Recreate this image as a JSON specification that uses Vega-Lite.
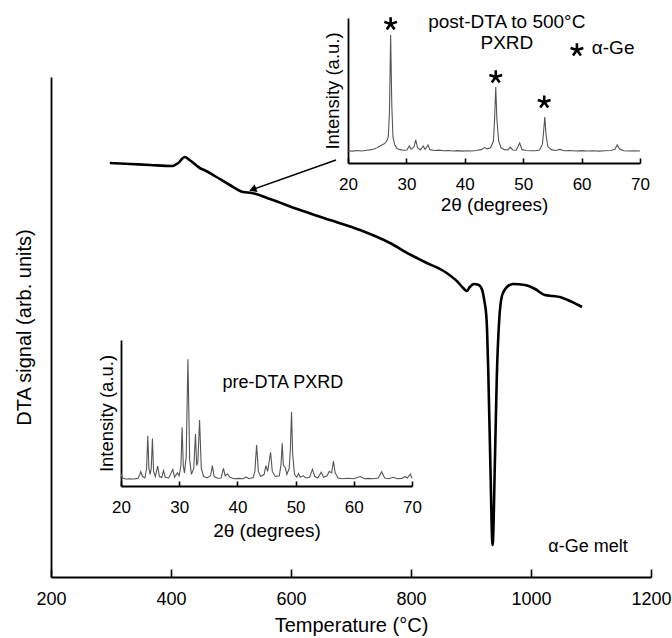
{
  "$schema": "https://vega.github.io/schema/vega-lite/v6.json",
  "width": 600,
  "height": 500,
  "autosize": {"type": "none"},
  "padding": {"left": 51, "top": 77, "right": 21, "bottom": 61},
  "background": "#ffffff",
  "config": {
    "view": {"stroke": null},
    "font": "Liberation Sans",
    "text": {"font": "Liberation Sans"},
    "axis": {
      "grid": false,
      "labelFlush": false,
      "labelOverlap": false,
      "domainColor": "#000000",
      "tickColor": "#000000",
      "labelColor": "#000000",
      "titleColor": "#000000",
      "labelFont": "Liberation Sans",
      "titleFont": "Liberation Sans",
      "titleFontWeight": "normal",
      "domainWidth": 1.8,
      "tickWidth": 1.6
    }
  },
  "datasets": {
    "dta": [
      {"temperature": 298, "signal": 82.8},
      {"temperature": 332, "signal": 82.6},
      {"temperature": 365, "signal": 82.4},
      {"temperature": 402, "signal": 82.2},
      {"temperature": 412, "signal": 82.8},
      {"temperature": 423, "signal": 84.0},
      {"temperature": 432, "signal": 83.3},
      {"temperature": 448, "signal": 81.8},
      {"temperature": 457, "signal": 81.3},
      {"temperature": 473, "signal": 80.2},
      {"temperature": 498, "signal": 78.4},
      {"temperature": 520, "signal": 77.0},
      {"temperature": 535, "signal": 76.8},
      {"temperature": 565, "signal": 75.6},
      {"temperature": 615, "signal": 73.4},
      {"temperature": 665, "signal": 71.4},
      {"temperature": 715, "signal": 69.4},
      {"temperature": 765, "signal": 66.8},
      {"temperature": 800, "signal": 64.4},
      {"temperature": 810, "signal": 63.8},
      {"temperature": 823, "signal": 63.0},
      {"temperature": 857, "signal": 61.0},
      {"temperature": 878, "signal": 59.0},
      {"temperature": 887, "signal": 57.8},
      {"temperature": 893, "signal": 57.2},
      {"temperature": 898, "signal": 58.0},
      {"temperature": 905, "signal": 58.6},
      {"temperature": 913, "signal": 58.4},
      {"temperature": 918, "signal": 57.6},
      {"temperature": 922, "signal": 55.4},
      {"temperature": 926, "signal": 51.4},
      {"temperature": 929, "signal": 40.0},
      {"temperature": 932, "signal": 24.0},
      {"temperature": 936, "signal": 6.4},
      {"temperature": 940, "signal": 24.0},
      {"temperature": 943, "signal": 40.0},
      {"temperature": 947, "signal": 51.4},
      {"temperature": 952, "signal": 56.4},
      {"temperature": 960, "signal": 58.0},
      {"temperature": 970, "signal": 58.6},
      {"temperature": 990, "signal": 58.4},
      {"temperature": 1007, "signal": 57.6},
      {"temperature": 1023, "signal": 56.4},
      {"temperature": 1037, "signal": 56.2},
      {"temperature": 1048, "signal": 56.0},
      {"temperature": 1065, "signal": 55.2},
      {"temperature": 1085, "signal": 54.0}
    ],
    "arrow": [
      {"temperature": 675, "signal": 83.4},
      {"temperature": 538, "signal": 77.6}
    ],
    "arrowhead": [
      {"temperature": 538, "signal": 77.6}
    ],
    "main_notes": [
      {"temperature": 1095, "signal": 6, "label": "α-Ge melt"}
    ],
    "post": [
      {"two_theta": 20.0, "intensity": 8.5},
      {"two_theta": 20.8, "intensity": 8.2},
      {"two_theta": 21.6, "intensity": 8.6},
      {"two_theta": 22.4, "intensity": 8.3},
      {"two_theta": 23.2, "intensity": 8.8},
      {"two_theta": 24.0, "intensity": 9.2},
      {"two_theta": 24.6, "intensity": 9.8},
      {"two_theta": 25.0, "intensity": 10.6},
      {"two_theta": 25.4, "intensity": 11.5},
      {"two_theta": 25.8, "intensity": 12.5},
      {"two_theta": 26.2, "intensity": 13.2},
      {"two_theta": 26.6, "intensity": 14.8},
      {"two_theta": 26.9, "intensity": 18},
      {"two_theta": 27.1, "intensity": 35},
      {"two_theta": 27.3, "intensity": 88.3},
      {"two_theta": 27.5, "intensity": 40},
      {"two_theta": 27.7, "intensity": 18},
      {"two_theta": 28.0, "intensity": 12.5},
      {"two_theta": 28.4, "intensity": 10},
      {"two_theta": 28.9, "intensity": 9.2},
      {"two_theta": 29.5, "intensity": 8.8},
      {"two_theta": 30.1, "intensity": 9},
      {"two_theta": 30.5, "intensity": 11.8},
      {"two_theta": 30.8, "intensity": 9.5},
      {"two_theta": 31.3, "intensity": 11},
      {"two_theta": 31.6, "intensity": 15.9},
      {"two_theta": 31.9, "intensity": 10.5},
      {"two_theta": 32.4, "intensity": 9},
      {"two_theta": 32.9, "intensity": 11.7},
      {"two_theta": 33.2, "intensity": 9.3},
      {"two_theta": 33.7, "intensity": 12.4},
      {"two_theta": 34.0, "intensity": 9.2},
      {"two_theta": 34.8, "intensity": 8.6},
      {"two_theta": 35.6, "intensity": 8.9},
      {"two_theta": 36.4, "intensity": 8.4},
      {"two_theta": 37.2, "intensity": 8.6},
      {"two_theta": 38.0, "intensity": 8.3},
      {"two_theta": 38.8, "intensity": 8.5},
      {"two_theta": 39.6, "intensity": 8.2},
      {"two_theta": 40.4, "intensity": 8.4},
      {"two_theta": 41.2, "intensity": 8.3},
      {"two_theta": 42.0, "intensity": 8.6},
      {"two_theta": 42.8, "intensity": 9.2},
      {"two_theta": 43.4, "intensity": 10.6},
      {"two_theta": 43.8, "intensity": 9.8},
      {"two_theta": 44.4, "intensity": 10.5},
      {"two_theta": 44.9, "intensity": 15},
      {"two_theta": 45.1, "intensity": 30},
      {"two_theta": 45.3, "intensity": 52.4},
      {"two_theta": 45.5, "intensity": 30},
      {"two_theta": 45.8, "intensity": 15},
      {"two_theta": 46.2, "intensity": 10.5},
      {"two_theta": 46.8, "intensity": 9.2},
      {"two_theta": 47.4, "intensity": 9},
      {"two_theta": 47.8, "intensity": 11},
      {"two_theta": 48.2, "intensity": 9},
      {"two_theta": 48.8, "intensity": 8.8},
      {"two_theta": 49.4, "intensity": 13.8},
      {"two_theta": 49.8, "intensity": 9.2},
      {"two_theta": 50.5, "intensity": 8.6},
      {"two_theta": 51.3, "intensity": 8.4},
      {"two_theta": 52.0, "intensity": 8.5},
      {"two_theta": 52.8, "intensity": 8.9},
      {"two_theta": 53.3, "intensity": 13},
      {"two_theta": 53.5, "intensity": 22},
      {"two_theta": 53.7, "intensity": 31.7},
      {"two_theta": 53.9, "intensity": 20},
      {"two_theta": 54.2, "intensity": 11.5},
      {"two_theta": 54.8, "intensity": 9.2},
      {"two_theta": 55.5, "intensity": 8.6},
      {"two_theta": 56.3, "intensity": 9.4},
      {"two_theta": 57.0, "intensity": 8.4},
      {"two_theta": 58.0, "intensity": 8.6},
      {"two_theta": 59.0, "intensity": 8.3},
      {"two_theta": 60.0, "intensity": 8.5},
      {"two_theta": 61.0, "intensity": 8.3},
      {"two_theta": 62.0, "intensity": 8.4},
      {"two_theta": 63.0, "intensity": 8.2},
      {"two_theta": 64.0, "intensity": 8.5},
      {"two_theta": 65.0, "intensity": 8.6},
      {"two_theta": 65.7, "intensity": 9.4},
      {"two_theta": 66.1, "intensity": 12.5},
      {"two_theta": 66.5, "intensity": 9.6},
      {"two_theta": 67.2, "intensity": 8.5},
      {"two_theta": 68.0, "intensity": 8.3},
      {"two_theta": 69.0, "intensity": 8.4},
      {"two_theta": 70.0, "intensity": 8.3}
    ],
    "post_notes": [
      {"two_theta": 47.2, "intensity": 97.2, "label": "post-DTA to 500°C"},
      {"two_theta": 47.2, "intensity": 82.8, "label": "PXRD"},
      {"two_theta": 65.4, "intensity": 79.3, "label": "α-Ge"}
    ],
    "post_stars": [
      {"two_theta": 27.3, "intensity": 95.9},
      {"two_theta": 45.3, "intensity": 59.3},
      {"two_theta": 53.6, "intensity": 42.0},
      {"two_theta": 59.2, "intensity": 77.9}
    ],
    "pre": [
      {"two_theta": 20.0, "intensity": 5.5},
      {"two_theta": 20.1, "intensity": 7.5},
      {"two_theta": 20.3, "intensity": 5.5},
      {"two_theta": 20.8, "intensity": 4.8},
      {"two_theta": 21.5, "intensity": 5.0},
      {"two_theta": 22.2, "intensity": 4.8},
      {"two_theta": 22.9, "intensity": 5.2},
      {"two_theta": 23.2, "intensity": 7.5},
      {"two_theta": 23.4, "intensity": 9.8},
      {"two_theta": 23.7, "intensity": 6.5},
      {"two_theta": 24.1, "intensity": 5.5},
      {"two_theta": 24.4, "intensity": 12},
      {"two_theta": 24.6, "intensity": 34.2},
      {"two_theta": 24.8, "intensity": 12},
      {"two_theta": 25.0, "intensity": 8},
      {"two_theta": 25.2, "intensity": 12},
      {"two_theta": 25.4, "intensity": 32.6},
      {"two_theta": 25.6, "intensity": 10},
      {"two_theta": 25.9, "intensity": 6.5},
      {"two_theta": 26.3, "intensity": 13.7},
      {"two_theta": 26.6, "intensity": 6.5},
      {"two_theta": 27.0, "intensity": 5.8},
      {"two_theta": 27.3, "intensity": 10.5},
      {"two_theta": 27.6, "intensity": 6},
      {"two_theta": 28.2, "intensity": 5.5},
      {"two_theta": 28.9, "intensity": 11.4},
      {"two_theta": 29.2, "intensity": 6},
      {"two_theta": 29.7, "intensity": 9},
      {"two_theta": 30.0, "intensity": 7},
      {"two_theta": 30.3, "intensity": 14},
      {"two_theta": 30.5, "intensity": 40.2},
      {"two_theta": 30.7, "intensity": 14},
      {"two_theta": 30.9, "intensity": 9},
      {"two_theta": 31.2, "intensity": 20},
      {"two_theta": 31.5, "intensity": 86.8},
      {"two_theta": 31.8, "intensity": 18},
      {"two_theta": 32.1, "intensity": 8},
      {"two_theta": 32.5, "intensity": 12},
      {"two_theta": 32.8, "intensity": 35.6},
      {"two_theta": 33.0, "intensity": 14},
      {"two_theta": 33.2, "intensity": 16},
      {"two_theta": 33.5, "intensity": 45.2},
      {"two_theta": 33.8, "intensity": 12},
      {"two_theta": 34.2, "intensity": 6.5},
      {"two_theta": 34.8, "intensity": 5.5},
      {"two_theta": 35.4, "intensity": 7},
      {"two_theta": 35.7, "intensity": 13.9},
      {"two_theta": 36.0, "intensity": 6.5},
      {"two_theta": 36.6, "intensity": 5.3},
      {"two_theta": 37.2, "intensity": 5.5},
      {"two_theta": 37.6, "intensity": 12.1},
      {"two_theta": 37.9, "intensity": 7},
      {"two_theta": 38.3, "intensity": 8.2},
      {"two_theta": 38.7, "intensity": 6},
      {"two_theta": 39.4, "intensity": 5},
      {"two_theta": 40.2, "intensity": 5.2},
      {"two_theta": 41.0, "intensity": 5},
      {"two_theta": 41.5, "intensity": 6.2},
      {"two_theta": 42.0, "intensity": 5},
      {"two_theta": 42.7, "intensity": 5.8},
      {"two_theta": 43.0, "intensity": 10},
      {"two_theta": 43.3, "intensity": 28.1},
      {"two_theta": 43.6, "intensity": 10},
      {"two_theta": 44.0, "intensity": 6.5},
      {"two_theta": 44.6, "intensity": 8},
      {"two_theta": 44.9, "intensity": 14},
      {"two_theta": 45.2, "intensity": 10},
      {"two_theta": 45.5, "intensity": 18},
      {"two_theta": 45.7, "intensity": 23},
      {"two_theta": 46.0, "intensity": 10},
      {"two_theta": 46.5, "intensity": 6.5},
      {"two_theta": 47.2, "intensity": 7},
      {"two_theta": 47.5, "intensity": 15},
      {"two_theta": 47.7, "intensity": 29.2},
      {"two_theta": 47.9, "intensity": 14},
      {"two_theta": 48.2, "intensity": 13},
      {"two_theta": 48.5, "intensity": 8},
      {"two_theta": 48.9, "intensity": 12},
      {"two_theta": 49.1, "intensity": 25},
      {"two_theta": 49.3, "intensity": 50.9},
      {"two_theta": 49.5, "intensity": 22},
      {"two_theta": 49.8, "intensity": 8},
      {"two_theta": 50.2, "intensity": 6},
      {"two_theta": 50.5, "intensity": 8.5},
      {"two_theta": 50.8, "intensity": 6},
      {"two_theta": 51.3, "intensity": 7},
      {"two_theta": 51.8, "intensity": 5.5},
      {"two_theta": 52.4, "intensity": 6},
      {"two_theta": 52.9, "intensity": 11.4},
      {"two_theta": 53.3, "intensity": 6.5},
      {"two_theta": 53.8, "intensity": 5.5},
      {"two_theta": 54.4, "intensity": 9.5},
      {"two_theta": 54.8, "intensity": 6},
      {"two_theta": 55.4, "intensity": 7},
      {"two_theta": 55.8, "intensity": 10},
      {"two_theta": 56.2, "intensity": 9},
      {"two_theta": 56.5, "intensity": 17.1},
      {"two_theta": 56.8, "intensity": 9},
      {"two_theta": 57.3, "intensity": 5.5},
      {"two_theta": 58.0, "intensity": 5},
      {"two_theta": 59.0, "intensity": 5.3},
      {"two_theta": 60.0, "intensity": 5},
      {"two_theta": 61.1, "intensity": 6.5},
      {"two_theta": 61.8, "intensity": 5},
      {"two_theta": 62.5, "intensity": 5.2},
      {"two_theta": 63.3, "intensity": 5},
      {"two_theta": 64.2, "intensity": 5.5},
      {"two_theta": 64.8, "intensity": 9.8},
      {"two_theta": 65.3, "intensity": 5.5},
      {"two_theta": 66.0, "intensity": 5},
      {"two_theta": 66.8, "intensity": 6},
      {"two_theta": 67.5, "intensity": 5},
      {"two_theta": 68.3, "intensity": 5.2},
      {"two_theta": 68.8, "intensity": 6.5},
      {"two_theta": 69.2, "intensity": 5.5},
      {"two_theta": 69.7, "intensity": 8.2},
      {"two_theta": 70.0, "intensity": 5.3}
    ],
    "pre_notes": [
      {"two_theta": 47.8, "intensity": 70.5, "label": "pre-DTA PXRD"}
    ]
  },
  "layer": [
    {
      "encoding": {
        "x": {
          "field": "temperature", "type": "quantitative",
          "scale": {"domain": [200, 1200], "nice": false, "zero": false},
          "axis": {"orient": "bottom", "title": "Temperature (°C)", "format": "d", "values": [200, 400, 600, 800, 1000, 1200], "tickSize": -8, "labelPadding": 21, "labelFontSize": 18, "titleFontSize": 20, "titlePadding": 7}
        },
        "y": {
          "field": "signal", "type": "quantitative",
          "scale": {"domain": [0, 100], "nice": false, "zero": false},
          "axis": {"orient": "left", "title": "DTA signal (arb. units)", "ticks": false, "labels": false, "titleFontSize": 20, "titlePadding": 21, "titleBaseline": "alphabetic"}
        }
      },
      "layer": [
        {"data": {"name": "dta"}, "mark": {"type": "line", "color": "#000000", "strokeWidth": 2.6, "interpolate": "monotone"}},
        {"data": {"name": "arrow"}, "mark": {"type": "line", "color": "#000000", "strokeWidth": 1.5}},
        {"data": {"name": "arrowhead"}, "mark": {"type": "point", "shape": "triangle", "filled": true, "color": "#000000", "size": 70, "angle": 250, "opacity": 1}},
        {"data": {"name": "main_notes"}, "mark": {"type": "text", "fontSize": 18, "color": "#000000", "align": "center", "baseline": "middle"}, "encoding": {"text": {"field": "label"}}}
      ]
    },
    {
      "encoding": {
        "x": {
          "field": "two_theta", "type": "quantitative",
          "scale": {"domain": [20, 70], "range": [297, 589], "nice": false, "zero": false},
          "axis": {"orient": "bottom", "offset": -414, "title": "2θ (degrees)", "values": [20, 30, 40, 50, 60, 70], "tickSize": -5, "labelPadding": 18, "labelFontSize": 17, "titleFontSize": 19, "titlePadding": 3}
        },
        "y": {
          "field": "intensity", "type": "quantitative",
          "scale": {"domain": [0, 100], "range": [86, -59], "nice": false, "zero": false},
          "axis": {"orient": "left", "offset": -297, "title": "Intensity (a.u.)", "ticks": false, "labels": false, "titleFontSize": 18.5, "titlePadding": 10, "titleBaseline": "alphabetic"}
        }
      },
      "layer": [
        {"data": {"name": "post"}, "mark": {"type": "line", "color": "#555555", "strokeWidth": 1.1}},
        {"data": {"name": "post_stars"}, "mark": {"type": "point", "shape": "M0,-1L0,0M0,0L0.95,-0.31M0,0L0.59,0.81M0,0L-0.59,0.81M0,0L-0.95,-0.31", "filled": false, "color": "#000000", "strokeWidth": 2.6, "size": 180, "opacity": 1}},
        {"data": {"name": "post_notes"}, "mark": {"type": "text", "fontSize": 19, "color": "#000000", "align": "center", "baseline": "middle"}, "encoding": {"text": {"field": "label"}}}
      ]
    },
    {
      "encoding": {
        "x": {
          "field": "two_theta", "type": "quantitative",
          "scale": {"domain": [20, 70], "range": [70, 361], "nice": false, "zero": false},
          "axis": {"orient": "bottom", "offset": -91, "title": "2θ (degrees)", "values": [20, 30, 40, 50, 60, 70], "tickSize": -5, "labelPadding": 18, "labelFontSize": 17, "titleFontSize": 19, "titlePadding": 6}
        },
        "y": {
          "field": "intensity", "type": "quantitative",
          "scale": {"domain": [0, 100], "range": [409, 263], "nice": false, "zero": false},
          "axis": {"orient": "left", "offset": -70, "title": "Intensity (a.u.)", "ticks": false, "labels": false, "titleFontSize": 18.5, "titlePadding": 9, "titleBaseline": "alphabetic"}
        }
      },
      "layer": [
        {"data": {"name": "pre"}, "mark": {"type": "line", "color": "#555555", "strokeWidth": 1.1}},
        {"data": {"name": "pre_notes"}, "mark": {"type": "text", "fontSize": 18, "color": "#000000", "align": "center", "baseline": "middle"}, "encoding": {"text": {"field": "label"}}}
      ]
    }
  ],
  "resolve": {
    "scale": {"x": "independent", "y": "independent"},
    "axis": {"x": "independent", "y": "independent"}
  }
}
